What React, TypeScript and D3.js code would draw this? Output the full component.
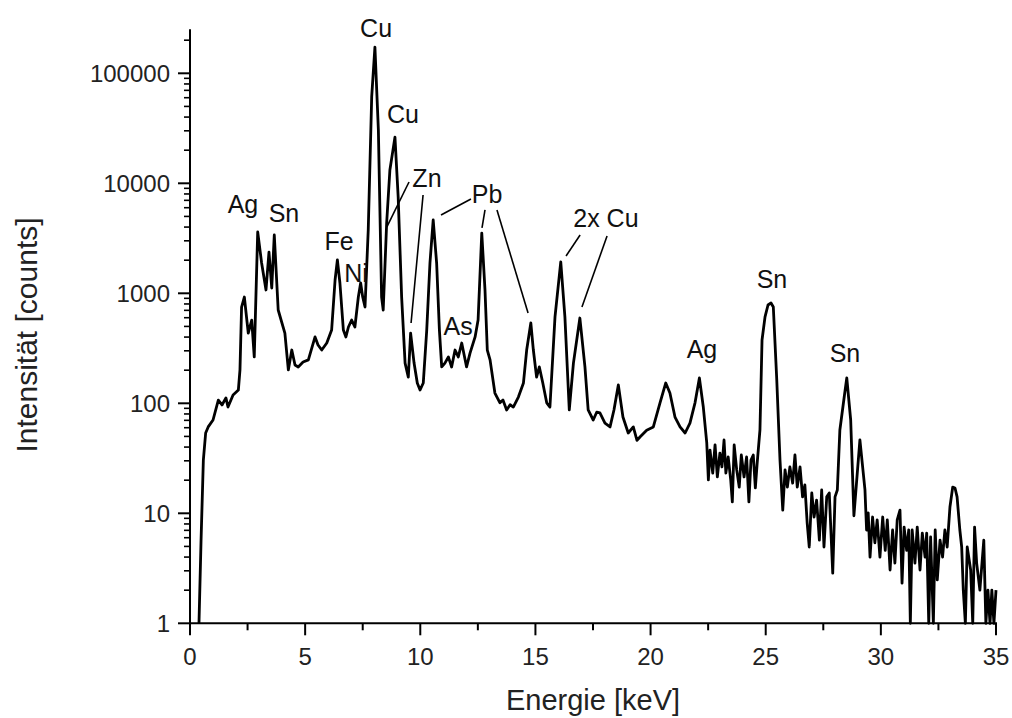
import React from "react";
import * as d3 from "d3";

// Spectrum: [energy in keV, intensity in counts]
const spectrum: [number, number][] = [
  [0.39, 1], [0.48, 5.7], [0.58, 30.5], [0.68, 53.7], [0.79, 61], [1.0, 70.5], [1.23, 107], [1.39, 96.6], [1.56, 112], [1.65, 92.5],
  [1.87, 119], [2.1, 132], [2.17, 201], [2.24, 750], [2.36, 925], [2.53, 435], [2.68, 571], [2.79, 264], [2.94, 3610], [3.11, 1885],
  [3.3, 1072], [3.43, 2370], [3.55, 1117], [3.66, 3390], [3.83, 705], [4.12, 435], [4.27, 201], [4.42, 305], [4.56, 223], [4.7, 214],
  [4.91, 237], [5.14, 248], [5.43, 401], [5.56, 339], [5.72, 305], [5.94, 353], [6.15, 463], [6.3, 1321], [6.4, 2010], [6.51, 1241],
  [6.66, 463], [6.77, 401], [6.88, 494], [7.02, 571], [7.16, 494], [7.31, 925], [7.41, 1241], [7.5, 925], [7.6, 750], [7.74, 3760],
  [7.89, 61000], [8.03, 173000], [8.18, 30500], [8.32, 925], [8.39, 705], [8.54, 4360], [8.68, 13200], [8.9, 26300], [9.04, 7500], [9.19, 925],
  [9.34, 232], [9.48, 173], [9.58, 435], [9.73, 232], [9.87, 153], [9.99, 132], [10.13, 153], [10.28, 463], [10.42, 1885], [10.56, 4640],
  [10.71, 1885], [10.83, 463], [10.93, 214], [11.07, 232], [11.22, 264], [11.36, 214], [11.51, 305], [11.65, 264], [11.8, 353], [12.01, 214],
  [12.16, 286], [12.38, 401], [12.51, 571], [12.67, 3530], [12.81, 1072], [12.91, 305], [13.03, 248], [13.24, 124], [13.46, 101], [13.59, 107],
  [13.75, 87], [13.9, 97], [14.04, 92.5], [14.26, 114], [14.48, 153], [14.62, 305], [14.8, 537], [14.91, 305], [15.05, 173], [15.17, 214],
  [15.32, 153], [15.49, 101], [15.63, 92.5], [15.85, 610], [16.1, 1930], [16.28, 610], [16.47, 87], [16.65, 232], [16.93, 596], [17.15, 214],
  [17.29, 87], [17.51, 70.5], [17.66, 83], [17.8, 81.7], [18.02, 66], [18.24, 61], [18.41, 87], [18.6, 147], [18.8, 75], [19.03, 53.7],
  [19.25, 61], [19.41, 46], [19.54, 49.4], [19.83, 57], [20.12, 61], [20.41, 101], [20.66, 153], [20.84, 124], [21.06, 75], [21.28, 61],
  [21.5, 53.7], [21.71, 66], [21.93, 101], [22.12, 170], [22.29, 92.5], [22.44, 43.6], [22.51, 20.1], [22.58, 37.6], [22.7, 23.2], [22.8, 41.8],
  [22.9, 21.4], [23.01, 35.3], [23.1, 26.4], [23.19, 46.4], [23.27, 23.2], [23.37, 32.5], [23.48, 20.1], [23.55, 12.7], [23.63, 41.8], [23.74, 24.8],
  [23.85, 17.3], [23.94, 33.9], [24.06, 21.4], [24.17, 32.5], [24.27, 12.7], [24.36, 30.5], [24.46, 33.9], [24.55, 17.0], [24.63, 28.7], [24.75, 57.2],
  [24.84, 376], [24.97, 610], [25.1, 783], [25.23, 817], [25.33, 750], [25.48, 163], [25.62, 30.5], [25.74, 10.7], [25.84, 24.8], [25.94, 17.3],
  [26.05, 26.4], [26.17, 18.8], [26.27, 33.9], [26.37, 17.3], [26.49, 26.4], [26.6, 14.1], [26.7, 18.1], [26.8, 8.2], [26.89, 4.94], [27.0, 15.3],
  [27.1, 9.25], [27.21, 13.2], [27.33, 5.7], [27.43, 16.3], [27.53, 4.94], [27.65, 14.1], [27.76, 15.3], [27.91, 2.86], [28.01, 14.1], [28.11, 16.3],
  [28.22, 57.2], [28.42, 119], [28.52, 170], [28.69, 70.5], [28.83, 9.5], [29.09, 46.4], [29.31, 16.3], [29.38, 7.05], [29.45, 10.1], [29.53, 4.0],
  [29.64, 9.25], [29.74, 5.4], [29.84, 8.7], [29.96, 4.0], [30.08, 9.25], [30.19, 4.6], [30.28, 8.7], [30.4, 3.05], [30.51, 7.05], [30.61, 3.53],
  [30.71, 8.7], [30.83, 10.7], [30.92, 2.32], [31.01, 7.5], [31.12, 4.6], [31.21, 7.05], [31.28, 1], [31.36, 7.05], [31.48, 3.53], [31.58, 7.5],
  [31.7, 3.05], [31.8, 6.6], [31.92, 4.0], [31.99, 6.6], [32.08, 1], [32.16, 6.1], [32.28, 1], [32.36, 7.05], [32.45, 2.48], [32.57, 5.7],
  [32.68, 4.0], [32.78, 7.05], [32.88, 4.94], [33.0, 11.4], [33.12, 17.3], [33.22, 17.0], [33.31, 14.1], [33.43, 7.05], [33.51, 4.94], [33.58, 2.0],
  [33.67, 1], [33.75, 4.94], [33.9, 3.05], [33.99, 1], [34.07, 7.5], [34.16, 3.53], [34.3, 2.0], [34.47, 5.7], [34.56, 1], [34.65, 2.0],
  [34.74, 1], [34.82, 2.0], [34.91, 1], [35.0, 2.0],
];

const xTickValues = [0, 5, 10, 15, 20, 25, 30, 35];
const yTickValues = [1, 10, 100, 1000, 10000, 100000];

// Peak labels, anchored in data coordinates (keV, counts)
const labelText = ["Ag", "Sn", "Fe", "Ni", "Cu", "Cu", "Zn", "Pb", "As", "2x Cu", "Ag", "Sn", "Sn"];
const labelEnergy = [2.3, 4.08, 6.47, 7.21, 8.08, 9.25, 10.29, 12.9, 11.64, 18.06, 22.23, 25.27, 28.44];
const labelCount = [5370, 4450, 2475, 1267, 213800, 35300, 9250, 6620, 418, 4010, 258, 1117, 237];

// Leader lines [E1, c1, E2, c2]
const leaderLines = [
  [9.51, 10280, 8.55, 4010],
  [10.12, 7830, 9.6, 537],
  [12.2, 7200, 10.9, 5150],
  [12.81, 5720, 12.68, 3925],
  [13.33, 5720, 14.68, 662],
  [16.94, 3390, 16.33, 2183],
  [18.11, 3320, 17.02, 750],
];

export default function App() {
  const W = 1012;
  const H = 718;
  const x = d3.scaleLinear().domain([0, 35]).range([190, 996]);
  const y = d3.scaleLog().domain([1, Math.pow(10, 5.4)]).range([623.3, 29.3]);

  const line = d3
    .line<[number, number]>()
    .x((d) => x(d[0]))
    .y((d) => y(d[1]));

  const yMinor = y.ticks().filter((v) => !yTickValues.includes(v));
  const xMinor = d3.range(2.5, 35, 5);
  const font = "'Liberation Sans', Arial, sans-serif";
  const x0 = x(0);
  const y0 = y(1);

  return (
    <svg width={W} height={H} style={{ position: "absolute", left: 0, top: 0 }} fontFamily={font}>
      <rect x={0} y={0} width={W} height={H} fill="#fff" />
      {/* spectrum */}
      <path d={line(spectrum) || ""} fill="none" stroke="#000" strokeWidth={2.8} strokeLinejoin="round" />

      {/* axes */}
      <line x1={x0} x2={x0} y1={y(Math.pow(10, 5.4))} y2={y0 + 1} stroke="#000" strokeWidth={2} />
      <line x1={x0 - 1} x2={x(35) + 1} y1={y0} y2={y0} stroke="#000" strokeWidth={2} />
      {yTickValues.map((v) => (
        <g key={"yt" + v}>
          <line x1={x0 - 12} x2={x0} y1={y(v)} y2={y(v)} stroke="#000" strokeWidth={2} />
          <text x={x0 - 20} y={y(v)} dy="0.36em" textAnchor="end" fontSize={24} fill="#222">
            {v}
          </text>
        </g>
      ))}
      {yMinor.map((v, i) => (
        <line key={"ym" + i} x1={x0 - 6} x2={x0} y1={y(v)} y2={y(v)} stroke="#000" strokeWidth={1.6} />
      ))}
      {xTickValues.map((v) => (
        <g key={"xt" + v}>
          <line x1={x(v)} x2={x(v)} y1={y0} y2={y0 + 12} stroke="#000" strokeWidth={2} />
          <text x={x(v)} y={665} textAnchor="middle" fontSize={24} fill="#222">
            {v}
          </text>
        </g>
      ))}
      {xMinor.map((v, i) => (
        <line key={"xm" + i} x1={x(v)} x2={x(v)} y1={y0} y2={y0 + 7} stroke="#000" strokeWidth={2} />
      ))}

      {/* axis titles */}
      <text x={593} y={710} textAnchor="middle" fontSize={29} fill="#222">
        Energie [keV]
      </text>
      <text transform={`translate(37,335) rotate(-90)`} textAnchor="middle" fontSize={30} fill="#222">
        Intensität [counts]
      </text>

      {/* annotations */}
      {leaderLines.map((l, i) => (
        <line
          key={"ll" + i}
          x1={x(l[0])}
          y1={y(l[1])}
          x2={x(l[2])}
          y2={y(l[3])}
          stroke="#000"
          strokeWidth={1.6}
        />
      ))}
      {labelText.map((t, i) => (
        <text key={"lb" + i} x={x(labelEnergy[i])} y={y(labelCount[i])} textAnchor="middle" fontSize={25} fill="#111">
          {t}
        </text>
      ))}
    </svg>
  );
}
